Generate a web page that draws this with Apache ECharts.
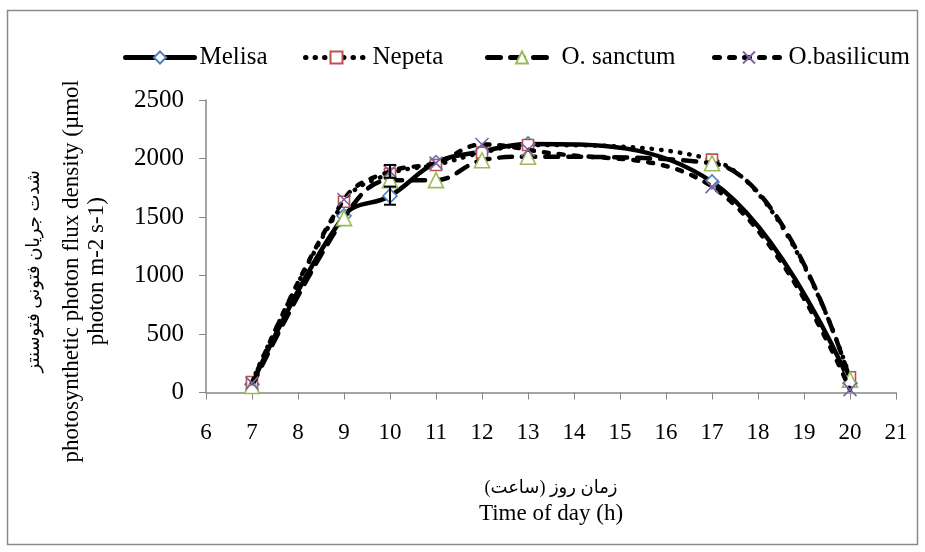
<!DOCTYPE html>
<html>
<head>
<meta charset="utf-8">
<script src="https://cdn.jsdelivr.net/npm/echarts@6/dist/echarts.min.js"></script>
<style>
  html, body { margin: 0; padding: 0; background: #fff; }
  #chart { width: 925px; height: 552px; }
</style>
</head>
<body>
<div id="chart"></div>
<script>
// Hours of the day at which PPFD was measured
var hours = [7, 9, 10, 11, 12, 13, 17, 20];

// Photosynthetic photon flux density (µmol photon m-2 s-1) per species
var melisa     = [70, 1510, 1680, 1965, 2060, 2125, 1800, 80];
var nepeta     = [90, 1630, 1870, 1945, 2050, 2115, 1990, 130];
var oSanctum   = [55, 1490, 1815, 1815, 1985, 2015, 1960, 110];
var oBasilicum = [80, 1650, 1890, 1960, 2120, 2075, 1760, 25];

// Error bars: [hour, low, high]
var melisaErr     = [[10, 1605, 1760]];
var oBasilicumErr = [[10, 1835, 1945]];

var seriesNames = ['Melisa', 'Nepeta', 'O. sanctum', 'O.basilicum'];

var FONT = "'Liberation Serif', 'DejaVu Sans', serif";
var AXIS_GREY = '#878787';

var LINE_TYPES = {
  solid: 'solid',
  dotted: [0.5, 9],
  longDash: [13, 10],
  dash: [5, 10]
};

function pairs(ys) {
  return hours.map(function (h, i) { return [h, ys[i]]; });
}

function errorBarSeries(data) {
  return {
    type: 'custom',
    z: 6,
    silent: true,
    data: data,
    renderItem: function (params, api) {
      var x = api.value(0);
      var lo = api.coord([x, api.value(1)]);
      var hi = api.coord([x, api.value(2)]);
      var cap = 6;
      var style = { stroke: '#000', lineWidth: 2 };
      return {
        type: 'group',
        children: [
          { type: 'line', shape: { x1: lo[0], y1: lo[1], x2: hi[0], y2: hi[1] }, style: style },
          { type: 'line', shape: { x1: lo[0] - cap, y1: lo[1], x2: lo[0] + cap, y2: lo[1] }, style: style },
          { type: 'line', shape: { x1: hi[0] - cap, y1: hi[1], x2: hi[0] + cap, y2: hi[1] }, style: style }
        ]
      };
    }
  };
}

function lineSeries(name, ys, lineType, symbol, size, color, z) {
  return {
    name: name,
    type: 'line',
    smooth: 0.4,
    z: z,
    data: pairs(ys),
    symbol: symbol,
    symbolSize: size,
    showSymbol: true,
    lineStyle: { color: '#000', width: 4.5, type: lineType, cap: 'round', join: 'round' },
    itemStyle: { color: '#fff', borderColor: color, borderWidth: 1.6 }
  };
}

function legendAt(name, left, width, lineType) {
  return {
    data: [name],
    left: left,
    top: 40,
    itemWidth: width,
    itemHeight: 15,
    itemGap: 0,
    lineStyle: { width: 5, type: lineType, cap: 'round', color: '#000' },
    textStyle: { fontFamily: FONT, fontSize: 25, color: '#000' }
  };
}

var chart = echarts.init(document.getElementById('chart'), null, { renderer: 'canvas' });

chart.setOption({
  backgroundColor: '#fff',
  animation: false,
  graphic: [{
    type: 'rect',
    shape: { x: 7.5, y: 10.5, width: 910, height: 534 },
    style: { fill: 'none', stroke: '#8a8a8a', lineWidth: 1.5 },
    z: -10
  }],
  legend: [
    legendAt('Melisa', 118, 69, LINE_TYPES.solid),
    legendAt('Nepeta', 298, 62, LINE_TYPES.dotted),
    legendAt('O. sanctum', 480, 69, LINE_TYPES.longDash),
    legendAt('O.basilicum', 707, 69, LINE_TYPES.dash)
  ],
  grid: { left: 206, right: 29, top: 100, bottom: 159.5, containLabel: false },
  xAxis: {
    type: 'value',
    min: 6,
    max: 21,
    interval: 1,
    splitLine: { show: false },
    axisLine: { onZero: false, lineStyle: { color: AXIS_GREY, width: 1.5 } },
    axisTick: { show: true, length: 7, lineStyle: { color: AXIS_GREY, width: 1 } },
    axisLabel: { fontFamily: FONT, fontSize: 23, color: '#000', margin: 29 },
    name: '{fa|زمان روز (ساعت)}\n{en|Time of day (h)}',
    nameLocation: 'middle',
    nameGap: 83,
    nameTextStyle: {
      rich: {
        fa: { fontFamily: FONT, fontSize: 18, color: '#000', lineHeight: 26, align: 'center' },
        en: { fontFamily: FONT, fontSize: 23, color: '#000', lineHeight: 25, align: 'center' }
      }
    }
  },
  yAxis: {
    type: 'value',
    min: 0,
    max: 2500,
    interval: 500,
    splitLine: { show: false },
    axisLine: { show: true, lineStyle: { color: AXIS_GREY, width: 1.5 } },
    axisTick: { show: true, length: 7, lineStyle: { color: AXIS_GREY, width: 1 } },
    axisLabel: {
      fontFamily: FONT, fontSize: 25, color: '#000', margin: 22,
      formatter: function (v) { return String(v); }
    },
    name: '{fa|شدت جریان فتونی فتوسنتز}\n{en|photosynthetic photon flux density (µmol}\n{en|photon m-2 s-1)}',
    nameLocation: 'middle',
    nameGap: 97,
    nameRotate: 90,
    nameTextStyle: {
      padding: [0, 50, 0, 0],
      rich: {
        fa: { fontFamily: FONT, fontSize: 18, color: '#000', lineHeight: 49, align: 'center' },
        en: { fontFamily: FONT, fontSize: 23, color: '#000', lineHeight: 25, align: 'center' }
      }
    }
  },
  series: [
    lineSeries(seriesNames[0], melisa, LINE_TYPES.solid, 'diamond', 14, '#4F81BD', 2),
    lineSeries(seriesNames[1], nepeta, LINE_TYPES.dotted, 'rect', 11, '#C0504D', 3),
    lineSeries(seriesNames[2], oSanctum, LINE_TYPES.longDash, 'triangle', 15, '#9BBB59', 4),
    lineSeries(seriesNames[3], oBasilicum, LINE_TYPES.dash, 'path://M0,0L10,10M10,0L0,10', 13, '#8064A2', 5),
    errorBarSeries(melisaErr),
    errorBarSeries(oBasilicumErr)
  ]
});
</script>
</body>
</html>
